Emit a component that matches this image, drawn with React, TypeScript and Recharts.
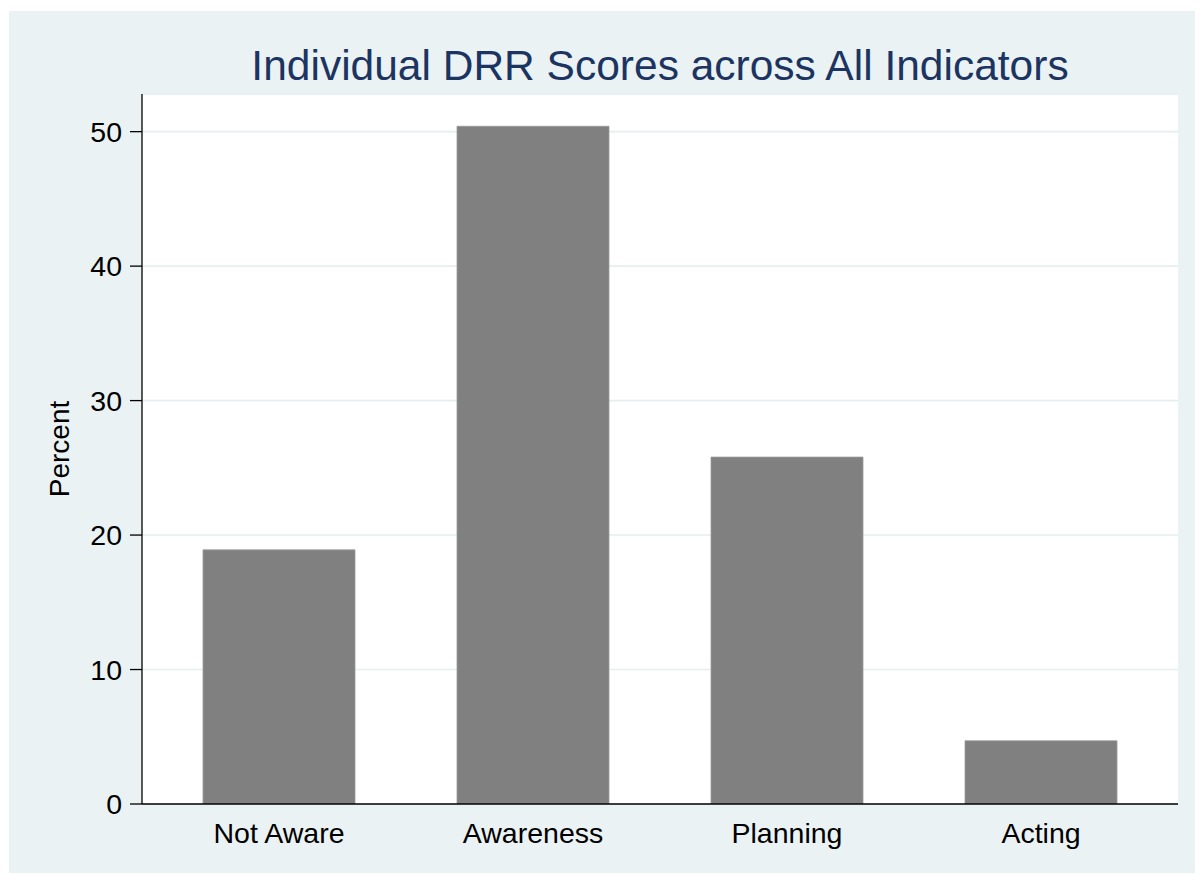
import React from 'react';
import { BarChart, Bar, XAxis, YAxis, CartesianGrid, Label } from 'recharts';

const categories = ['Not Aware', 'Awareness', 'Planning', 'Acting'];
const percentValues = [18.9, 50.4, 25.8, 4.7];
const yTicks = [0, 10, 20, 30, 40, 50];
const titleText = 'Individual DRR Scores across All Indicators';
const yAxisTitle = 'Percent';

const data = categories.map((c, i) => ({ category: c, percent: percentValues[i] }));

const FONT = '"Liberation Sans", Arial, Helvetica, sans-serif';

const PercentLabel = (props: any) => {
  const vb = props.viewBox || {};
  const cx = 60;
  const cy = (vb.y ?? 0) + (vb.height ?? 0) / 2;
  return (
    <text
      x={cx}
      y={cy}
      transform={`rotate(-90, ${cx}, ${cy})`}
      textAnchor="middle"
      fontSize={28}
      fontFamily={FONT}
      fill="#000"
    >
      {yAxisTitle}
    </text>
  );
};

export default function App() {
  return (
    <div style={{ width: 1195, height: 866, position: 'relative' }}>
      <div
        style={{
          position: 'absolute',
          left: 1,
          top: 3,
          width: 1194,
          height: 862,
          background: '#EAF2F3',
        }}
      >
        <div
          style={{
            position: 'absolute',
            left: 133,
            width: 1036,
            top: 34,
            textAlign: 'center',
            fontFamily: FONT,
            fontSize: 42.5,
            lineHeight: '42px',
            color: '#1C3461',
            whiteSpace: 'nowrap',
          }}
        >
          {titleText}
        </div>
        <BarChart
          width={1194}
          height={862}
          data={data}
          margin={{ top: 83, right: 25, bottom: 0, left: 0 }}
          barCategoryGap={0}
          style={{ position: 'absolute', left: 0, top: 0 }}
        >
          <CartesianGrid
            vertical={false}
            horizontal={true}
            stroke="#E6EEF0"
            strokeWidth={1.6}
            fill="#FFFFFF"
            fillOpacity={1}
          />
          <XAxis
            dataKey="category"
            height={69}
            padding={{ left: 10, right: 10 }}
            tickLine={false}
            tickSize={0}
            tickMargin={19}
            axisLine={{ stroke: '#000', strokeWidth: 1.3 }}
            tick={{ fontSize: 28.5, fontFamily: FONT, fill: '#000' }}
            interval={0}
          />
          <YAxis
            width={133}
            domain={[0, 52.8]}
            ticks={yTicks}
            allowDataOverflow={true}
            tickSize={12}
            tickMargin={8}
            tickLine={{ stroke: '#000', strokeWidth: 1.3 }}
            axisLine={{ stroke: '#000', strokeWidth: 1.3 }}
            tick={{ fontSize: 28.5, fontFamily: FONT, fill: '#000' }}
          >
            <Label content={PercentLabel} />
          </YAxis>
          <Bar
            dataKey="percent"
            fill="#808080"
            stroke="#999999"
            strokeWidth={0.8}
            barSize={152}
            isAnimationActive={false}
          />
        </BarChart>
      </div>
    </div>
  );
}
